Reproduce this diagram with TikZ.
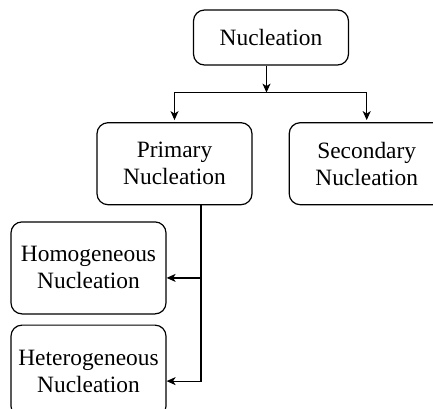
\documentclass[tikz,border=0pt]{standalone}
\usepackage{fontspec}
\setmainfont{Liberation Serif}
\usepackage{tikz}
\usetikzlibrary{shapes,arrows,arrows.meta}
\usetikzlibrary{positioning}

\begin{document}
\begin{tikzpicture}[x=1pt,y=1pt,node distance=2em,auto,>={Stealth[length=9pt,width=8pt,inset=2.5pt]},line width=1.2pt,
  box/.style={draw,rounded corners=11pt,align=center,minimum width=155pt,inner sep=0pt,
    font=\fontsize{23.4}{27}\selectfont}]
\useasboundingbox (0,0) rectangle (433,-408);
\path node[box, minimum height=55pt] at (271,-37.5) (nuc) {Nucleation};
\path node[box, minimum height=82pt, below =56.5pt of nuc, xshift=-96.5pt] (prim) {Primary\\Nucleation};
\path node[box, minimum height=82pt, right =36pt of prim] (sec) {Secondary\\Nucleation};
\path node[box, minimum height=92pt, below =16pt of prim, xshift=-86pt] (homo) {Homogeneous\\Nucleation};
\path node[box, minimum height=92pt, below =10pt of homo] (het) {Heterogeneous\\Nucleation};
% split point under the top box
\coordinate (split) at ([xshift=-4.5pt,yshift=-27pt]nuc.south);
\path[->,draw] ([xshift=-4.5pt]nuc.south) -- (split);
\path[->,draw,shorten >=2pt] (split) -| (prim.north);
\path[->,draw,shorten >=2pt] (split) -| (sec.north);
% trunk from primary
\coordinate (trunk) at ([xshift=26.5pt]prim.south);
\path[->,draw] (trunk) |- ([yshift=-10pt]homo.east);
\path[->,draw] (trunk) |- ([yshift=-10pt]het.east);
\end{tikzpicture}
\end{document}
